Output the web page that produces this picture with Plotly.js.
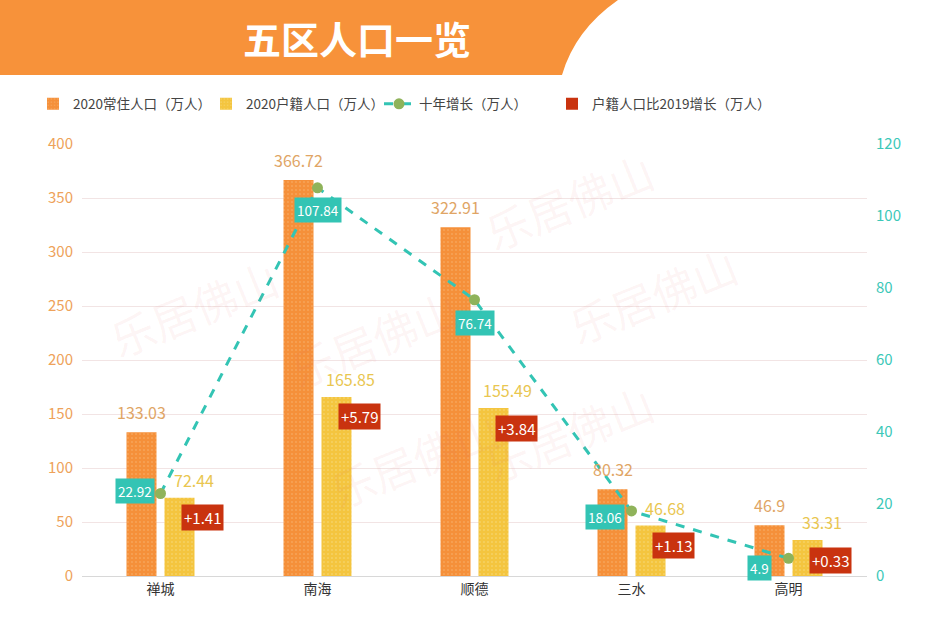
<!DOCTYPE html>
<html><head><meta charset="utf-8">
<script src="https://cdn.plot.ly/plotly-3.0.1.min.js"></script>
<style>html,body{margin:0;padding:0;background:#fff}#chart{width:950px;height:618px}</style>
</head><body><div id="chart"></div>
<script>
const categories = ['禅城','南海','顺德','三水','高明'];
const resident2020 = [133.03, 366.72, 322.91, 80.32, 46.9];
const registered2020 = [72.44, 165.85, 155.49, 46.68, 33.31];
const tenYearGrowth = [22.92, 107.84, 76.74, 18.06, 4.9];
const growthVs2019 = ['+1.41', '+5.79', '+3.84', '+1.13', '+0.33'];
const leftTicks = [0,50,100,150,200,250,300,350,400];
const rightTicks = [0,20,40,60,80,100,120];

const font = '"Noto Sans CJK SC", "Noto Sans", sans-serif';
const cOrange = '#f5903a', cYellow = '#f4c53f', cTeal = '#33c4b4', cRed = '#c9330f', cDot = '#8fb35a';

const traces = [
  {type:'bar', name:'2020常住人口（万人）', x:categories, y:resident2020, offsetgroup:'a',
   marker:{color:cOrange, pattern:{shape:'.', fgcolor:'#f9b470', bgcolor:cOrange, size:4, solidity:0.12}}},
  {type:'bar', name:'2020户籍人口（万人）', x:categories, y:registered2020, offsetgroup:'b',
   marker:{color:cYellow, pattern:{shape:'.', fgcolor:'#f8dc80', bgcolor:cYellow, size:4, solidity:0.12}}},
  {type:'scatter', mode:'lines+markers', name:'十年增长（万人）', x:categories, y:tenYearGrowth, yaxis:'y2',
   line:{color:cTeal, width:3, dash:'dash'}, marker:{color:cDot, size:11}, cliponaxis:false},
  {type:'bar', name:'户籍人口比2019增长（万人）', x:categories, y:categories.map(()=>null), offsetgroup:'a',
   marker:{color:cRed}, showlegend:true},
  // spacer entry so the last legend label is not clipped
  {type:'bar', name:' ', x:categories, y:categories.map(()=>null), offsetgroup:'a',
   marker:{color:'rgba(0,0,0,0)'}, showlegend:true}
];

// label offsets (pixel) for the ten-year growth boxes
const tealOffsets = [[-26,2],[0,-22],[0,-23],[-27,-6],[-29,-10]];

const annotations = [];
resident2020.forEach((v,i)=>{
  annotations.push({x:categories[i], y:v, xref:'x', yref:'y', text:String(v), showarrow:false,
    xshift:-19, yanchor:'bottom', yshift:6, font:{color:'#e0a565', size:16, family:font}});
});
registered2020.forEach((v,i)=>{
  annotations.push({x:categories[i], y:v, xref:'x', yref:'y', text:String(v), showarrow:false,
    xshift:33, yanchor:'bottom', yshift:4, font:{color:'#e9c650', size:16, family:font}});
});
tenYearGrowth.forEach((v,i)=>{
  annotations.push({x:categories[i], y:v, xref:'x', yref:'y2', text:String(v), showarrow:false,
    xshift:tealOffsets[i][0], yshift:tealOffsets[i][1], bgcolor:cTeal, borderpad:2,
    font:{color:'#fff', size:13.5, family:font}});
});
growthVs2019.forEach((t,i)=>{
  annotations.push({x:categories[i], y:registered2020[i], xref:'x', yref:'y', text:t, showarrow:false,
    xshift:42, yshift:-20, bgcolor:cRed, borderpad:2,
    font:{color:'#fff', size:15, family:font}});
});
// watermark
const wm = [[0.02,0.62],[0.62,1.02],[0.85,0.65],[0.30,0.12],[0.62,0.18],[0.25,0.55]];
wm.forEach(p=>annotations.push({xref:'paper', yref:'paper', x:p[0], y:p[1], text:'乐居佛山', showarrow:false,
  textangle:-22, font:{size:44, color:'rgba(225,110,110,0.07)', family:font}}));
// title
annotations.push({xref:'paper', yref:'paper', x:(241-82)/785, y:(576-38)/432, xanchor:'left', yanchor:'middle',
  text:'<b>五区人口一览</b>', showarrow:false, font:{size:38, color:'#ffffff', family:font}});

const px = v => (v-82)/785, py = v => (576-v)/432;
const shapes = [{type:'path', xref:'paper', yref:'paper', layer:'below', line:{width:0}, fillcolor:'#f7923a',
  path:`M ${px(0)} ${py(0)} L ${px(618)} ${py(0)} Q ${px(575)} ${py(30)} ${px(562)} ${py(75)} L ${px(0)} ${py(75)} Z`}];

const layout = {
  width:950, height:618, margin:{l:82, r:83, t:144, b:42},
  paper_bgcolor:'#fff', plot_bgcolor:'rgba(0,0,0,0)',
  font:{family:font, color:'#444'},
  barmode:'group', bargap:0.516, bargroupgap:0.21,
  showlegend:true,
  legend:{orientation:'h', x:px(33), y:py(104), xanchor:'left', yanchor:'middle',
    font:{size:13.5, color:'#444', family:font}, bgcolor:'rgba(0,0,0,0)', itemwidth:30, tracegroupgap:0,
    entrywidth:128, entrywidthmode:'pixels'},
  xaxis:{type:'category', showline:true, linecolor:'#d8d8d8', ticks:'', tickfont:{size:14, color:'#333'}, showgrid:false, fixedrange:true, automargin:false},
  yaxis:{range:[0,400], tickvals:leftTicks, showgrid:true, gridcolor:'#f2e4e4', zeroline:false, automargin:false,
    tickfont:{size:15, color:'#eea25a'}, ticks:'', ticklabelstandoff:8},
  yaxis2:{range:[0,120], tickvals:rightTicks, overlaying:'y', side:'right', showgrid:false, zeroline:false, automargin:false,
    tickfont:{size:15, color:'#3cc8b8'}, ticks:'', ticklabelstandoff:8},
  annotations, shapes
};
Plotly.newPlot('chart', traces, layout, {displayModeBar:false, staticPlot:true});
</script></body></html>
